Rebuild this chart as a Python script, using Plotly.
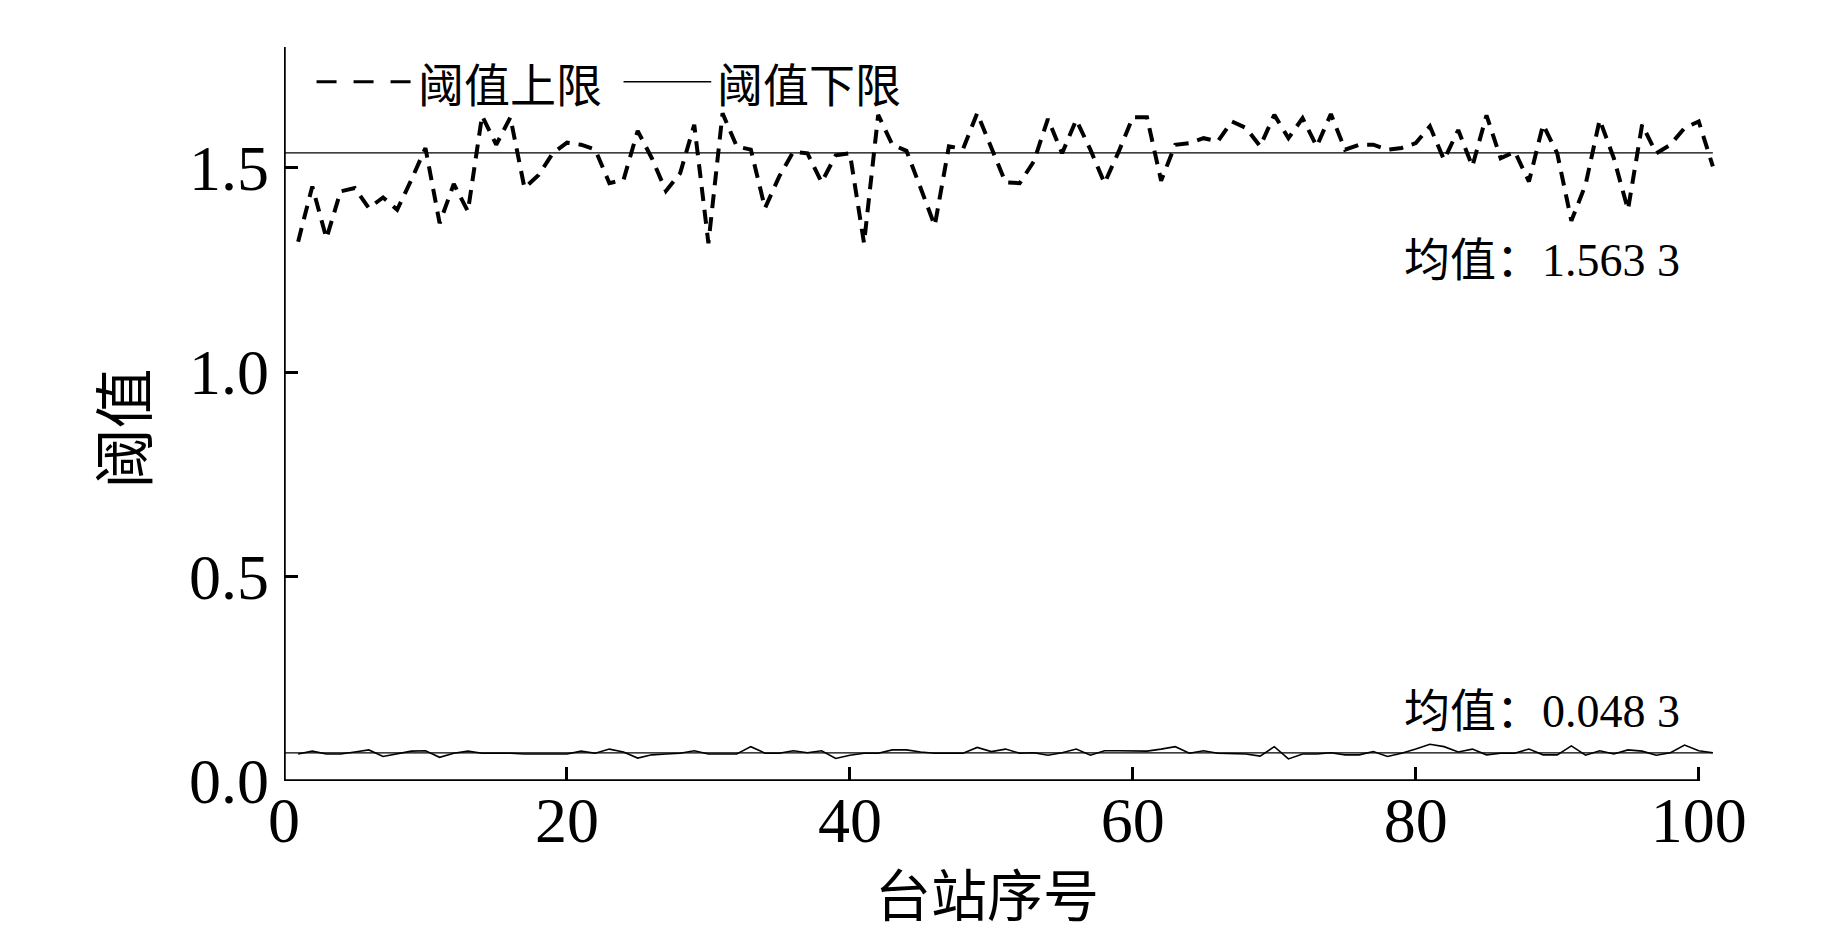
import plotly.graph_objects as go

# ---------------- data ----------------
station = list(range(1, 102))

upper = [1.319, 1.454, 1.327, 1.442, 1.450, 1.401, 1.427, 1.397, 1.470, 1.548,
         1.364, 1.460, 1.393, 1.627, 1.556, 1.623, 1.450, 1.482, 1.535, 1.561,
         1.556, 1.544, 1.462, 1.470, 1.590, 1.523, 1.443, 1.486, 1.605, 1.315,
         1.633, 1.552, 1.544, 1.401, 1.478, 1.539, 1.535, 1.464, 1.530, 1.535,
         1.315, 1.629, 1.556, 1.541, 1.450, 1.358, 1.552, 1.546, 1.633, 1.548,
         1.464, 1.462, 1.515, 1.619, 1.535, 1.617, 1.544, 1.462, 1.539, 1.623,
         1.623, 1.468, 1.556, 1.560, 1.572, 1.564, 1.613, 1.597, 1.552, 1.629,
         1.572, 1.621, 1.552, 1.631, 1.544, 1.556, 1.556, 1.544, 1.548, 1.560,
         1.601, 1.519, 1.592, 1.503, 1.628, 1.523, 1.539, 1.466, 1.605, 1.535,
         1.370, 1.458, 1.617, 1.523, 1.397, 1.605, 1.535, 1.556, 1.597, 1.613,
         1.503]

lower = [0.066, 0.073, 0.066, 0.066, 0.071, 0.076, 0.060, 0.066, 0.073, 0.074,
         0.058, 0.068, 0.073, 0.068, 0.068, 0.068, 0.066, 0.066, 0.066, 0.066,
         0.073, 0.068, 0.078, 0.071, 0.056, 0.064, 0.066, 0.068, 0.074, 0.066,
         0.066, 0.066, 0.084, 0.068, 0.068, 0.074, 0.069, 0.074, 0.055, 0.063,
         0.068, 0.068, 0.076, 0.076, 0.071, 0.068, 0.068, 0.068, 0.082, 0.072,
         0.078, 0.068, 0.069, 0.063, 0.069, 0.078, 0.063, 0.074, 0.074, 0.074,
         0.073, 0.078, 0.084, 0.068, 0.074, 0.068, 0.067, 0.066, 0.061, 0.084,
         0.054, 0.066, 0.066, 0.069, 0.064, 0.064, 0.072, 0.060, 0.068, 0.078,
         0.090, 0.084, 0.071, 0.078, 0.064, 0.068, 0.068, 0.078, 0.064, 0.064,
         0.086, 0.063, 0.074, 0.066, 0.076, 0.073, 0.063, 0.069, 0.088, 0.074,
         0.069]

mean_x = [0, 101]
upper_mean_level = [1.536, 1.536]
lower_mean_level = [0.069, 0.069]

upper_label = "均值：1.563 3"
lower_label = "均值：0.048 3"
legend_names = ["阈值上限", "阈值下限"]

x_ticks = [0, 20, 40, 60, 80, 100]
y_ticks = [0, 0.5, 1.0, 1.5]
y_ticktext = ["0.0", "0.5", "1.0", "1.5"]

# ---------------- styling ----------------
SERIF = "Liberation Serif, Times New Roman, serif"
CJK = "Noto Sans CJK SC, sans-serif"
MIX = "Liberation Serif, Noto Sans CJK SC, serif"

fig = go.Figure()

fig.add_trace(go.Scatter(
    x=mean_x, y=upper_mean_level, mode="lines",
    line=dict(color="black", width=1.3), showlegend=False, hoverinfo="skip"))
fig.add_trace(go.Scatter(
    x=mean_x, y=lower_mean_level, mode="lines",
    line=dict(color="black", width=1.3), showlegend=False, hoverinfo="skip"))

fig.add_trace(go.Scatter(
    x=station, y=upper, mode="lines", name=legend_names[0],
    line=dict(color="black", width=4, dash="14px,9px"), showlegend=False))
fig.add_trace(go.Scatter(
    x=station, y=lower, mode="lines", name=legend_names[1],
    line=dict(color="black", width=1.6), showlegend=False))

axis_common = dict(
    showgrid=False, zeroline=False, showline=False,
    ticks="inside", ticklen=14, tickwidth=3, tickcolor="black",
    tickfont=dict(family=SERIF, size=64, color="black"),
)

fig.update_xaxes(range=[0, 102], tickvals=x_ticks, ticklabelstandoff=-4, **axis_common)
fig.update_yaxes(range=[0, 1.795], tickvals=y_ticks, ticktext=y_ticktext,
                 ticklabelstandoff=14, **axis_common)

# axis lines
fig.add_shape(type="line", x0=0, x1=100, y0=0, y1=0, xref="x", yref="y",
              line=dict(color="black", width=3.5))
fig.add_shape(type="line", x0=0, x1=0, y0=0, y1=1.795, xref="x", yref="y",
              line=dict(color="black", width=3.5))

# manual legend
fig.add_shape(type="line", x0=2.3, x1=9.0, y0=1.71, y1=1.71, xref="x", yref="y",
              line=dict(color="black", width=3, dash="20px,17px"))
fig.add_shape(type="line", x0=24.0, x1=30.2, y0=1.71, y1=1.71, xref="x", yref="y",
              line=dict(color="black", width=1.6))
fig.add_annotation(x=9.3, y=1.71, xref="x", yref="y", text=legend_names[0],
                   showarrow=False, xanchor="left", yanchor="middle",
                   font=dict(family=CJK, size=46, color="black"))
fig.add_annotation(x=30.5, y=1.71, xref="x", yref="y", text=legend_names[1],
                   showarrow=False, xanchor="left", yanchor="middle",
                   font=dict(family=CJK, size=46, color="black"))

# mean labels
fig.add_annotation(x=98.8, y=1.272, xref="x", yref="y", text=upper_label,
                   showarrow=False, xanchor="right", yanchor="middle",
                   font=dict(family=MIX, size=46, color="black"))
fig.add_annotation(x=98.8, y=0.171, xref="x", yref="y", text=lower_label,
                   showarrow=False, xanchor="right", yanchor="middle",
                   font=dict(family=MIX, size=46, color="black"))

# axis titles
fig.add_annotation(x=49.7, y=-0.208, xref="x", yref="paper", text="台站序号",
                   showarrow=False, xanchor="center", yanchor="bottom",
                   font=dict(family=CJK, size=56, color="black"))
fig.add_annotation(x=-0.113, y=0.48, xref="paper", yref="paper", text="阈值",
                   showarrow=False, xanchor="center", yanchor="middle", textangle=-90,
                   font=dict(family=CJK, size=60, color="black"))

# page body has an 8px margin, so the figure is sized/placed to compensate
fig.update_layout(
    width=1827, height=929, autosize=False,
    margin=dict(l=276, r=108, t=39, b=156, pad=0),
    paper_bgcolor="white", plot_bgcolor="white",
    showlegend=False,
)

fig.write_html("out.html")
